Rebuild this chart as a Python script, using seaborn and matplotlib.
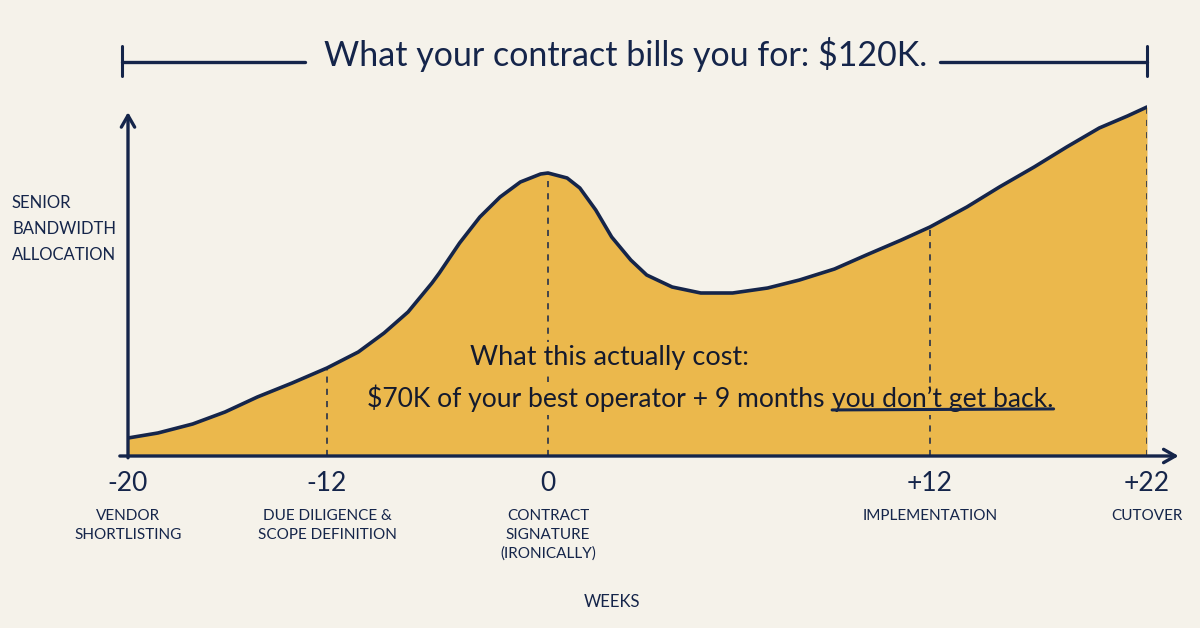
import numpy as np
import matplotlib
matplotlib.use("Agg")
import matplotlib.pyplot as plt
import seaborn as sns
from matplotlib.lines import Line2D

# ---- data ----
weeks = [-20, -18.8, -17.4, -16.1, -14.8, -13.4, -12, -10.3, -8.9, -7.6, -6.3, -5.9, -4.8, -3.7,
         -2.6, -1.5, -0.4, 0, 0.6, 1.0, 1.5, 2.0, 2.6, 3.1, 3.9, 4.8, 5.8, 6.9, 7.9, 9.0, 10.0,
         11.1, 12.0, 13.7, 15.2, 16.8, 18.3, 19.8, 21.1, 22]
bandwidth = [18, 23, 32, 44, 59, 73, 88, 104, 123, 144, 173, 183, 213, 239,
             259, 274, 282, 283, 278, 268, 246, 219, 196, 181, 169, 163, 163, 168, 176, 187, 201,
             216, 229, 249, 269, 289, 309, 328, 340, 349]

milestone_weeks = [-20, -12, 0, 12, 22]
milestone_ticks = ["-20", "-12", "0", "+12", "+22"]
milestone_names = ["VENDOR\nSHORTLISTING", "DUE DILIGENCE &\nSCOPE DEFINITION",
                   "CONTRACT\nSIGNATURE\n(IRONICALLY)", "IMPLEMENTATION", "CUTOVER"]

title = "What your contract bills you for: $120K."
cost_line1 = "What this actually cost:"
cost_line2 = "$70K of your best operator + 9 months"
cost_line2_end = "you don\u2019t get back."

# ---- style ----
BG = "#F5F2EA"
FILL = "#EBB84C"
NAVY = "#15254A"
INK = "#141a2e"

sns.set_theme(style="white")
plt.rcParams["font.family"] = ["Lato", "DejaVu Sans"]

# the hand drawn week axis is not evenly spaced
spacing = [0, 199, 420, 802, 1019]


def fwd(x):
    x = np.asarray(x, dtype=float)
    y = np.interp(x, milestone_weeks, spacing)
    lo = (spacing[1] - spacing[0]) / (milestone_weeks[1] - milestone_weeks[0])
    hi = (spacing[-1] - spacing[-2]) / (milestone_weeks[-1] - milestone_weeks[-2])
    y = np.where(x < milestone_weeks[0], spacing[0] + (x - milestone_weeks[0]) * lo, y)
    y = np.where(x > milestone_weeks[-1], spacing[-1] + (x - milestone_weeks[-1]) * hi, y)
    return y


def inv(p):
    p = np.asarray(p, dtype=float)
    x = np.interp(p, spacing, milestone_weeks)
    lo = (milestone_weeks[1] - milestone_weeks[0]) / (spacing[1] - spacing[0])
    hi = (milestone_weeks[-1] - milestone_weeks[-2]) / (spacing[-1] - spacing[-2])
    x = np.where(p < spacing[0], milestone_weeks[0] + (p - spacing[0]) * lo, x)
    x = np.where(p > spacing[-1], milestone_weeks[-1] + (p - spacing[-1]) * hi, x)
    return x


fig = plt.figure(figsize=(12, 6.28), dpi=100, facecolor=BG)
ax = fig.add_axes([128 / 1200, 172 / 628, 1019 / 1200, 356 / 628])
ax.set_facecolor("none")
ax.set_xscale("function", functions=(fwd, inv))

# area + curve
ax.fill_between(weeks, bandwidth, 0, color=FILL, linewidth=0, zorder=1)
sns.lineplot(x=weeks, y=bandwidth, ax=ax, color=NAVY, linewidth=2.6, sort=False, zorder=3)
ax.lines[-1].set_solid_joinstyle("round")

# dashed milestone markers up to the curve
marker_tops = np.interp(milestone_weeks[1:], weeks, bandwidth)
ax.vlines(milestone_weeks[1:], 0, marker_tops, colors=NAVY, linestyles=(0, (4, 4)),
          linewidth=1.1, zorder=2)

ax.set_xlim(-20, 22)
ax.set_ylim(0, 356)
for s in ax.spines.values():
    s.set_visible(False)
ax.set_yticks([])
ax.set_xticks(milestone_weeks)
ax.set_xticklabels(milestone_ticks, fontsize=19, color=NAVY)
ax.tick_params(axis="x", direction="inout", length=18, width=1.6, color=NAVY, pad=2)
ax.set_xlabel("")
ax.set_ylabel("")

# axes arrows
ax.annotate("", xy=(1.031, 0), xytext=(-0.008, 0), xycoords="axes fraction",
            arrowprops=dict(arrowstyle="->,head_length=0.7,head_width=0.4", color=NAVY, lw=2.4,
                            shrinkA=0, shrinkB=0), annotation_clip=False, zorder=4)
ax.annotate("", xy=(0, 0.966), xytext=(0, -0.005), xycoords="axes fraction",
            arrowprops=dict(arrowstyle="->,head_length=0.7,head_width=0.4", color=NAVY, lw=2.4,
                            shrinkA=0, shrinkB=0), annotation_clip=False, zorder=4)

# phase names under the ticks
for w, name in zip(milestone_weeks, milestone_names):
    ax.text(w, -0.148, name, transform=ax.get_xaxis_transform(), ha="center", va="top",
            fontsize=11, color=NAVY, linespacing=1.45)
ax.text(0.475, -0.41, "WEEKS", transform=ax.transAxes, ha="center", va="center",
        fontsize=12, color=NAVY)

# y axis label
fig.text(0.01, 0.69, "SENIOR\nBANDWIDTH\nALLOCATION", ha="left", va="top",
         fontsize=12, color=NAVY, linespacing=1.8)

# cost annotation inside the area
box = dict(facecolor=FILL, edgecolor="none", pad=2)
ax.text(-4.24, 99, cost_line1, ha="left", va="center", fontsize=19.5, color=INK, bbox=box, zorder=5)
t2a = ax.text(-9.83, 44, cost_line2, ha="left", va="bottom", fontsize=19.1, color=INK,
              bbox=box, zorder=5)
t2b = ax.annotate(cost_line2_end, xy=(1, 0), xycoords=t2a, xytext=(5.5, 0), textcoords="offset points",
                  ha="left", va="bottom", fontsize=19.1, color=INK, bbox=box, zorder=5)
ax.annotate("", xy=(1.0, 0.12), xycoords=t2b, xytext=(0.0, 0.08), textcoords=t2b,
            arrowprops=dict(arrowstyle="-", color=NAVY, lw=2.2, shrinkA=0, shrinkB=0), zorder=6)

# title bracket
fig.text(0.521, 1 - 55 / 628, title, ha="center", va="center", fontsize=24.5, color=NAVY)
y_b = 1 - 62 / 628
for x0, x1, xt in [(122, 305, 122), (940, 1147, 1147)]:
    fig.add_artist(Line2D([x0 / 1200, x1 / 1200], [y_b, y_b], color=NAVY, lw=2.4))
    fig.add_artist(Line2D([xt / 1200, xt / 1200], [1 - 46 / 628, 1 - 76 / 628], color=NAVY, lw=2.2))

fig.savefig("out.png", dpi=100, facecolor=BG)
